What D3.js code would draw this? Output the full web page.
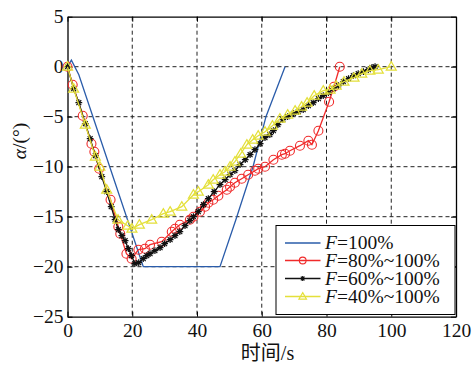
<!DOCTYPE html>
<html><head><meta charset="utf-8">
<script src="https://cdn.jsdelivr.net/npm/d3@7"></script>
<style>body{margin:0;background:#fff}</style>
</head><body><svg id="c" width="475" height="366"></svg>
<script>
// Angle α (deg) against time (s) for four load cases
const xTicks = [0, 20, 40, 60, 80, 100, 120];
const yTicks = [5, 0, -5, -10, -15, -20, -25];
const seriesNames = ["F=100%", "F=80%~100%", "F=60%~100%", "F=40%~100%"];

const blueT = [0, 1.2, 3.5, 14.8, 23.4, 47.1, 52.0, 57.3, 61.3, 67.2];
const blueA = [0, 0.65, -0.8, -11.7, -20, -20, -15.3, -10.0, -5.0, 0];

const redT = [0, 1.6, 4.7, 7.4, 8.3, 9.8, 13.3, 15.7, 16.3, 18.2, 19.8, 21.9, 23.9, 25.5, 29.1, 32.2, 33.2, 34.7, 37.8, 38.9, 40.9, 42.5, 43.5, 45.0, 46.6, 49.2, 50.2, 51.7, 53.8, 55.8, 57.9, 58.9, 61.0, 63.6, 66.2, 67.2, 68.7, 71.8, 74.4, 75.5, 77.5, 80.8, 82.3, 84.1];
const redA = [0, -1.8, -4.9, -7.7, -8.5, -10.2, -13.3, -16.0, -16.7, -18.7, -19.2, -18.3, -18.2, -17.8, -17.5, -16.5, -16.2, -15.8, -15.3, -15.0, -14.5, -14.0, -13.6, -13.3, -12.9, -12.3, -12.0, -11.6, -11.2, -10.8, -10.4, -10.2, -10.0, -9.3, -8.8, -8.7, -8.4, -7.9, -7.4, -7.8, -6.4, -3.5, -2.0, 0];

const blackT = [0, 1.9, 3.5, 5.5, 7.0, 8.6, 10.6, 12.1, 13.5, 14.7, 15.7, 16.8, 17.8, 18.8, 19.8, 20.8, 22.0, 23.4, 24.5, 25.5, 27.0, 28.6, 30.0, 31.7, 33.2, 34.7, 36.3, 37.8, 38.9, 40.4, 42.0, 43.5, 45.3, 47.1, 48.7, 50.2, 51.7, 53.3, 54.9, 56.4, 57.9, 59.5, 61.0, 62.5, 63.6, 65.0, 66.5, 68.0, 69.8, 71.3, 72.8, 74.4, 75.9, 77.5, 79.0, 80.6, 82.1, 83.7, 85.2, 86.8, 88.3, 89.8, 91.4, 92.9, 94.0, 95.0];
const blackA = [0, -2.2, -3.6, -5.7, -7.2, -8.9, -11.0, -12.5, -14.0, -15.3, -16.3, -16.9, -17.4, -18.2, -18.9, -19.7, -19.6, -19.2, -18.9, -18.7, -18.4, -18.1, -17.7, -17.3, -16.9, -16.5, -15.9, -15.4, -15.0, -14.5, -13.8, -13.2, -12.5, -11.8, -11.3, -10.8, -10.4, -9.8, -9.3, -8.8, -8.3, -7.7, -7.1, -6.8, -6.4, -5.8, -5.3, -5.0, -4.7, -4.5, -4.3, -3.9, -3.6, -3.2, -2.9, -2.6, -2.2, -1.9, -1.5, -1.2, -0.9, -0.7, -0.5, -0.3, -0.1, 0];

const yellowT = [0, 1.9, 5.5, 8.6, 10.0, 12.1, 15.6, 18.6, 19.9, 22.2, 26.0, 29.6, 31.7, 35.3, 38.9, 40.4, 43.5, 45.0, 47.1, 48.6, 50.2, 51.7, 53.5, 55.4, 57.2, 58.9, 61.0, 63.3, 65.6, 68.0, 70.3, 72.3, 74.0, 76.2, 79.0, 81.1, 83.0, 85.4, 88.5, 90.9, 93.4, 96.0, 100.0];
const yellowA = [0, -2.2, -5.8, -9.0, -10.0, -12.3, -15.3, -15.9, -16.2, -15.8, -15.3, -14.7, -14.5, -14.0, -12.8, -12.5, -11.8, -11.3, -10.8, -10.5, -10.0, -9.5, -8.7, -7.8, -7.3, -6.9, -6.5, -5.9, -5.2, -4.8, -4.4, -4.0, -3.6, -2.9, -2.4, -2.3, -1.9, -1.5, -1.1, -0.7, -0.4, -0.3, 0];

const colors = ["#2a5caa", "#f02a2a", "#111111", "#e4e03a"];
const markers = ["none", "circle", "star", "triangle"];

const W = 475, H = 366;
const plot = {l: 67.5, r: 456, t: 16.7, b: 316.7};
const x = d3.scaleLinear().domain([0, 120]).range([plot.l, plot.r]);
const y = d3.scaleLinear().domain([-25, 5]).range([plot.b, plot.t]);

const svg = d3.select("#c");
svg.append("rect").attr("width", W).attr("height", H).attr("fill", "#fff");

const serif = "'Liberation Serif','Times New Roman',serif";

// dashed grid
const grid = svg.append("g").attr("stroke", "#222").attr("stroke-width", 1)
  .attr("stroke-dasharray", "4,3").attr("fill", "none");
grid.selectAll("line.gx").data(xTicks.filter(v => v > 0 && v < 120)).join("line")
  .attr("x1", d => x(d)).attr("x2", d => x(d)).attr("y1", plot.t).attr("y2", plot.b);
grid.selectAll("line.gy").data(yTicks.filter(v => v > -25 && v < 5)).join("line")
  .attr("class", "gy")
  .attr("y1", d => y(d)).attr("y2", d => y(d)).attr("x1", plot.l).attr("x2", plot.r);

// axes with inward ticks
const fmt = d3.format("d");
const axB = svg.append("g").attr("transform", `translate(0,${plot.b})`)
  .call(d3.axisBottom(x).tickValues(xTicks).tickFormat(fmt).tickSizeInner(-5).tickSizeOuter(0).tickPadding(6));
const axL = svg.append("g").attr("transform", `translate(${plot.l},0)`)
  .call(d3.axisLeft(y).tickValues(yTicks).tickFormat(fmt).tickSizeInner(-5).tickSizeOuter(0).tickPadding(4));
const axT = svg.append("g").attr("transform", `translate(0,${plot.t})`)
  .call(d3.axisTop(x).tickValues(xTicks).tickFormat("").tickSizeInner(-5).tickSizeOuter(0));
const axR = svg.append("g").attr("transform", `translate(${plot.r},0)`)
  .call(d3.axisRight(y).tickValues(yTicks).tickFormat("").tickSizeInner(-5).tickSizeOuter(0));
[axB, axL, axT, axR].forEach(a => {
  a.select(".domain").attr("stroke", "#000").attr("stroke-width", 1.3);
  a.selectAll(".tick line").attr("stroke", "#000").attr("stroke-width", 1);
  a.selectAll("text").attr("font-family", serif).attr("font-size", 19.5).attr("fill", "#111");
});

// series
function pts(T, A) { return T.map((t, i) => [t, A[i]]); }
const data = [pts(blueT, blueA), pts(redT, redA), pts(blackT, blackA), pts(yellowT, yellowA)];
const line = d3.line().x(d => x(d[0])).y(d => y(d[1]));

function drawMarker(g, kind, color, cx, cy, s) {
  if (kind === "circle") {
    g.append("circle").attr("cx", cx).attr("cy", cy).attr("r", 4.5 * s)
      .attr("fill", "none").attr("stroke", color).attr("stroke-width", 1.1);
  } else if (kind === "star") {
    const r = 3.4 * s, q = r * 0.72;
    g.append("path").attr("d",
      `M${cx - r},${cy}L${cx + r},${cy}M${cx},${cy - r}L${cx},${cy + r}` +
      `M${cx - q},${cy - q}L${cx + q},${cy + q}M${cx - q},${cy + q}L${cx + q},${cy - q}`)
      .attr("stroke", color).attr("stroke-width", 1.2).attr("fill", "none");
  } else if (kind === "triangle") {
    const h = 8.5 * s, w = 5 * s;
    g.append("path").attr("d",
      `M${cx},${cy - h * 0.6}L${cx + w},${cy + h * 0.4}L${cx - w},${cy + h * 0.4}Z`)
      .attr("stroke", color).attr("stroke-width", 1.2).attr("fill", "none");
  }
}

data.forEach((d, i) => {
  const g = svg.append("g");
  g.append("path").datum(d).attr("d", line).attr("fill", "none")
    .attr("stroke", colors[i]).attr("stroke-width", 1.3);
  if (markers[i] !== "none") {
    d.forEach(p => drawMarker(g, markers[i], colors[i], x(p[0]), y(p[1]), 1));
  }
});

// legend
const lg = svg.append("g");
lg.append("rect").attr("x", 276).attr("y", 225.5).attr("width", 179).attr("height", 89)
  .attr("fill", "#fff").attr("stroke", "#000").attr("stroke-width", 1);
const rowY = [243, 260.5, 278.5, 296.5];
seriesNames.forEach((name, i) => {
  const yy = rowY[i];
  lg.append("line").attr("x1", 285).attr("x2", 320.5).attr("y1", yy).attr("y2", yy)
    .attr("stroke", colors[i]).attr("stroke-width", 1.3);
  if (markers[i] !== "none") drawMarker(lg, markers[i], colors[i], 302.7, yy, 0.75);
  const t = lg.append("text").attr("x", 325).attr("y", yy + 6.3)
    .attr("font-family", serif).attr("font-size", 19.5).attr("fill", "#111");
  t.append("tspan").attr("font-style", "italic").text(name.slice(0, 1));
  t.append("tspan").text(name.slice(1));
});

// axis titles
const yt = svg.append("text").attr("transform", "translate(26,141) rotate(-90)")
  .attr("text-anchor", "middle").attr("font-family", serif).attr("font-size", 19.5).attr("fill", "#111");
yt.append("tspan").attr("font-style", "italic").text("α");
yt.append("tspan").text("/(°)");

svg.append("text").attr("x", 267.5).attr("y", 360).attr("text-anchor", "middle")
  .attr("font-family", "'Liberation Serif','Noto Sans CJK SC',serif").attr("font-size", 20)
  .attr("fill", "#111").text("时间/s");
</script>
</body></html>
